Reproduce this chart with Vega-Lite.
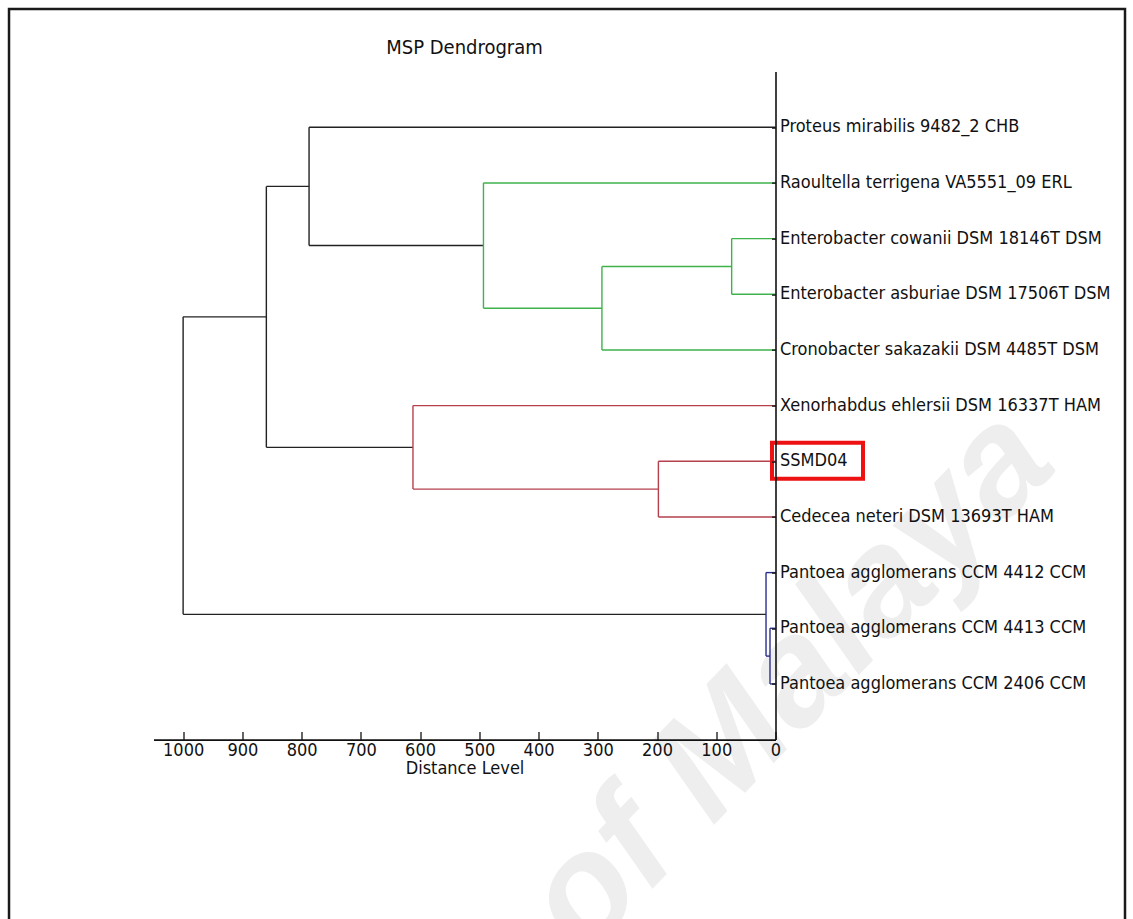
{
  "$schema": "https://vega.github.io/schema/vega-lite/v6.json",
  "width": 622,
  "height": 668,
  "autosize": {"type": "none"},
  "padding": {"left": 153.5, "top": 71.6, "right": 357.5, "bottom": 179.4},
  "background": "white",
  "config": {
    "view": {"stroke": null},
    "font": "Liberation Sans Narrow, DejaVu Sans Condensed, Arial Narrow, sans-serif",
    "axis": {"grid": false, "domainColor": "#111", "tickColor": "#111", "labelColor": "#111", "titleColor": "#111"}
  },
  "title": {
    "text": "MSP Dendrogram",
    "anchor": "middle",
    "fontSize": 20,
    "fontWeight": "normal",
    "color": "#111",
    "offset": -50
  },
  "datasets": {
    "links": [
      {"cluster": "link", "h1": 0, "h2": 787.4, "y1": 11, "y2": 11},
      {"cluster": "link", "h1": 493, "h2": 787.4, "y1": 8.875, "y2": 8.875},
      {"cluster": "link", "h1": 787.4, "h2": 787.4, "y1": 8.875, "y2": 11},
      {"cluster": "link", "h1": 787.4, "h2": 859.5, "y1": 9.9375, "y2": 9.9375},
      {"cluster": "link", "h1": 612, "h2": 859.5, "y1": 5.25, "y2": 5.25},
      {"cluster": "link", "h1": 859.5, "h2": 859.5, "y1": 5.25, "y2": 9.9375},
      {"cluster": "link", "h1": 859.5, "h2": 1000, "y1": 7.594, "y2": 7.594},
      {"cluster": "link", "h1": 16, "h2": 1000, "y1": 2.25, "y2": 2.25},
      {"cluster": "link", "h1": 1000, "h2": 1000, "y1": 2.25, "y2": 7.594},
      {"cluster": "green", "h1": 0, "h2": 493, "y1": 10, "y2": 10},
      {"cluster": "green", "h1": 293, "h2": 493, "y1": 7.75, "y2": 7.75},
      {"cluster": "green", "h1": 493, "h2": 493, "y1": 7.75, "y2": 10},
      {"cluster": "green", "h1": 0, "h2": 293, "y1": 7, "y2": 7},
      {"cluster": "green", "h1": 74, "h2": 293, "y1": 8.5, "y2": 8.5},
      {"cluster": "green", "h1": 293, "h2": 293, "y1": 7, "y2": 8.5},
      {"cluster": "green", "h1": 0, "h2": 74, "y1": 9, "y2": 9},
      {"cluster": "green", "h1": 0, "h2": 74, "y1": 8, "y2": 8},
      {"cluster": "green", "h1": 74, "h2": 74, "y1": 8, "y2": 9},
      {"cluster": "red", "h1": 0, "h2": 612, "y1": 6, "y2": 6},
      {"cluster": "red", "h1": 197.7, "h2": 612, "y1": 4.5, "y2": 4.5},
      {"cluster": "red", "h1": 612, "h2": 612, "y1": 4.5, "y2": 6},
      {"cluster": "red", "h1": 0, "h2": 197.7, "y1": 5, "y2": 5},
      {"cluster": "red", "h1": 0, "h2": 197.7, "y1": 4, "y2": 4},
      {"cluster": "red", "h1": 197.7, "h2": 197.7, "y1": 4, "y2": 5},
      {"cluster": "blue", "h1": 0, "h2": 16, "y1": 3, "y2": 3},
      {"cluster": "blue", "h1": 9.3, "h2": 16, "y1": 1.5, "y2": 1.5},
      {"cluster": "blue", "h1": 16, "h2": 16, "y1": 1.5, "y2": 3},
      {"cluster": "blue", "h1": 0, "h2": 9.3, "y1": 2, "y2": 2},
      {"cluster": "blue", "h1": 0, "h2": 9.3, "y1": 1, "y2": 1},
      {"cluster": "blue", "h1": 9.3, "h2": 9.3, "y1": 1, "y2": 2}
    ],
    "leaves": [
      {"name": "Proteus mirabilis 9482_2 CHB", "pos": 11},
      {"name": "Raoultella terrigena VA5551_09 ERL", "pos": 10},
      {"name": "Enterobacter cowanii DSM 18146T DSM", "pos": 9},
      {"name": "Enterobacter asburiae DSM 17506T DSM", "pos": 8},
      {"name": "Cronobacter sakazakii DSM 4485T DSM", "pos": 7},
      {"name": "Xenorhabdus ehlersii DSM 16337T HAM", "pos": 6},
      {"name": "SSMD04", "pos": 5},
      {"name": "Cedecea neteri DSM 13693T HAM", "pos": 4},
      {"name": "Pantoea agglomerans CCM 4412 CCM", "pos": 3},
      {"name": "Pantoea agglomerans CCM 4413 CCM", "pos": 2},
      {"name": "Pantoea agglomerans CCM 2406 CCM", "pos": 1}
    ]
  },
  "layer": [
    {
      "data": {"values": [{"mark": "University of Malaya"}]},
      "mark": {"type": "text", "align": "right", "baseline": "alphabetic", "angle": -46, "fontSize": 150, "fontStyle": "italic", "fontWeight": "bold", "font": "Liberation Sans", "color": "#eeeeee"},
      "encoding": {
        "x": {"datum": -480, "type": "quantitative"},
        "y": {"datum": 4.9, "type": "quantitative"},
        "text": {"field": "mark"}
      }
    },
    {
      "data": {"name": "links"},
      "mark": {"type": "rule", "strokeWidth": 1.4},
      "encoding": {
        "x": {
          "field": "h1",
          "type": "quantitative",
          "scale": {"domain": [0, 1050], "reverse": true, "nice": false, "zero": false},
          "axis": {
            "orient": "bottom",
            "zindex": 2,
            "values": [0, 100, 200, 300, 400, 500, 600, 700, 800, 900, 1000],
            "format": "d",
            "tickSize": -8,
            "tickWidth": 1.3,
            "domainWidth": 1.6,
            "labelPadding": 10,
            "labelFontSize": 18,
            "labelFlush": false,
            "labelOverlap": false,
            "title": "Distance Level",
            "titleFontSize": 18,
            "titleFontWeight": "normal",
            "titlePadding": 0
          }
        },
        "x2": {"field": "h2"},
        "y": {
          "field": "y1",
          "type": "quantitative",
          "scale": {"domain": [0, 12], "nice": false, "zero": false},
          "axis": {
            "orient": "right",
            "zindex": 2,
            "values": [1, 2, 3, 4, 5, 6, 7, 8, 9, 10, 11],
            "labels": false,
            "tickSize": -4,
            "tickWidth": 1.3,
            "domainWidth": 1.6,
            "title": null
          }
        },
        "y2": {"field": "y2"},
        "color": {
          "field": "cluster",
          "type": "nominal",
          "scale": {"domain": ["link", "green", "red", "blue"], "range": ["#222222", "#3fb24a", "#b5404c", "#2a2f8f"]},
          "legend": null
        }
      }
    },
    {
      "data": {"name": "leaves"},
      "mark": {"type": "text", "align": "left", "baseline": "middle", "dx": 4.5, "fontSize": 18, "color": "#111"},
      "encoding": {
        "x": {"datum": 0, "type": "quantitative"},
        "y": {"field": "pos", "type": "quantitative"},
        "text": {"field": "name"}
      }
    },
    {
      "data": {"name": "leaves"},
      "transform": [{"filter": "datum.name === 'SSMD04'"}],
      "mark": {"type": "rect", "fill": null, "stroke": "#ee1111", "strokeWidth": 4, "xOffset": -3.5, "x2Offset": 87.5, "yOffset": -18.5, "y2Offset": 17.5},
      "encoding": {
        "x": {"datum": 0, "type": "quantitative"},
        "x2": {"datum": 0},
        "y": {"field": "pos", "type": "quantitative"},
        "y2": {"field": "pos"}
      }
    },
    {
      "data": {"values": [{}]},
      "mark": {"type": "rect", "fill": null, "stroke": "#1a1a1a", "strokeWidth": 2.5},
      "encoding": {
        "x": {"datum": 1293.9, "type": "quantitative"},
        "x2": {"datum": -590},
        "y": {"datum": 13.125, "type": "quantitative"},
        "y2": {"datum": -4}
      }
    }
  ]
}
